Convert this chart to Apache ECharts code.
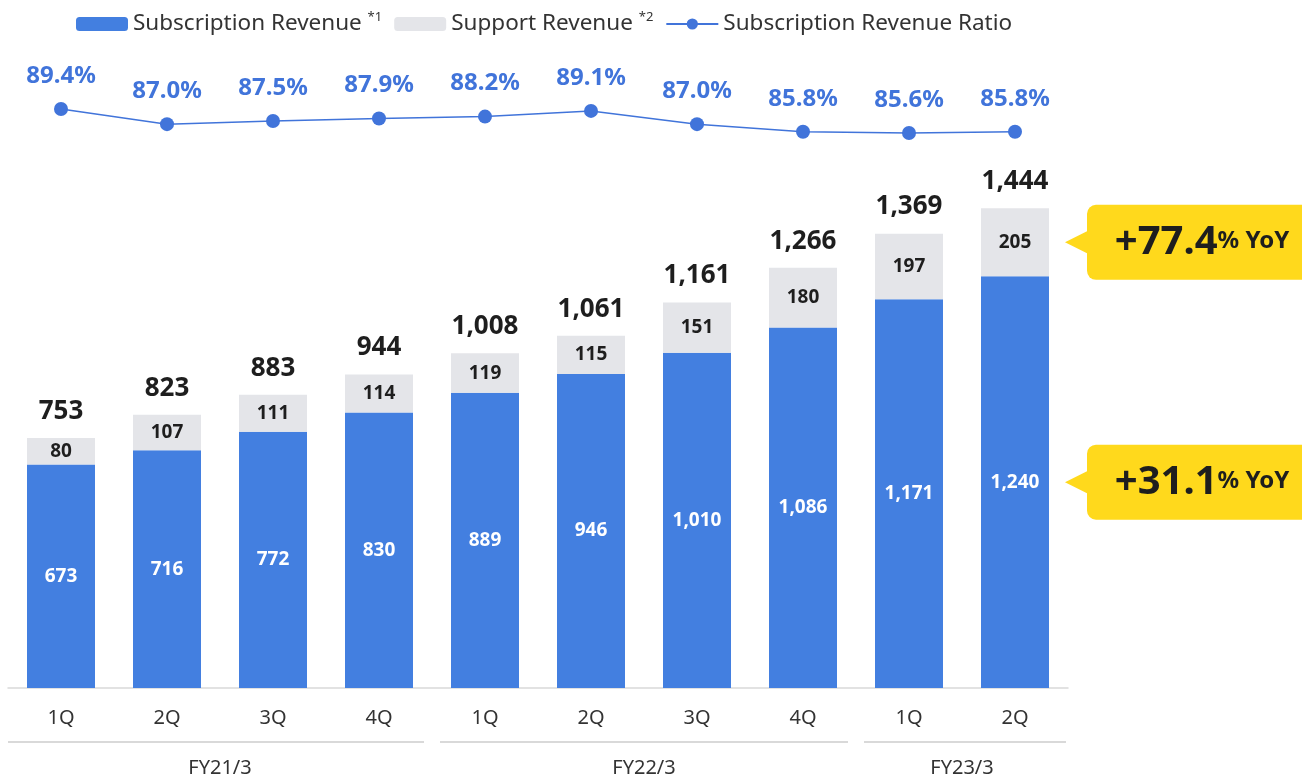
<!DOCTYPE html>
<html><head><meta charset="utf-8">
<script src="https://cdn.jsdelivr.net/npm/echarts@6/dist/echarts.min.js"></script>
<style>html,body{margin:0;padding:0;background:#fff}#c{width:1302px;height:781px}</style>
</head><body><div id="c"></div>
<script>
const quarters = ['1Q','2Q','3Q','4Q','1Q','2Q','3Q','4Q','1Q','2Q'];
const subscription = [673,716,772,830,889,946,1010,1086,1171,1240];
const support = [80,107,111,114,119,115,151,180,197,205];
const totals = [753,823,883,944,1008,1061,1161,1266,1369,1444];
const ratio = [89.4,87.0,87.5,87.9,88.2,89.1,87.0,85.8,85.6,85.8];
const groupNames = ['FY21/3','FY22/3','FY23/3'];
const groupFirst = [0,4,8];
const groupLast = [3,7,9];
const yoyTotal = '+77.4';
const yoySub = '+31.1';

const FONT = '"Noto Sans", "Open Sans", sans-serif';
const BLUE = '#437FE0';
const GRAY = '#E4E5E9';
const LINEBLUE = '#4174DA';
const DARK = '#1E1E1E';

const chart = echarts.init(document.getElementById('c'));
const fmtNum = v => v.toLocaleString('en-US');

const option = {
  animation: false,
  textStyle: { fontFamily: FONT },
  legend: {
    left: 71, top: 6,
    itemWidth: 52, itemHeight: 14, itemGap: 12,
    data: ['Subscription Revenue', 'Support Revenue', 'Subscription Revenue Ratio'],
    formatter: function (name) {
      if (name === 'Subscription Revenue') return '{n|Subscription Revenue} {s|*1}';
      if (name === 'Support Revenue') return '{n|Support Revenue} {s|*2}';
      return '{n|' + name + '}';
    },
    textStyle: {
      color: '#333', fontSize: 22.5, fontFamily: FONT,
      rich: {
        n: { fontSize: 22.5, color: '#333', fontFamily: FONT },
        s: { fontSize: 13, color: '#333', fontFamily: FONT, padding: [0, 0, 13, 0] }
      }
    }
  },
  grid: [
    { left: 8, right: 234, top: 190, bottom: 93 },
    { left: 8, right: 234, top: 42, height: 126.4 }
  ],
  xAxis: [
    {
      type: 'category', gridIndex: 0, data: quarters,
      axisLine: { lineStyle: { color: '#D9D9D9', width: 1.5 } },
      axisTick: { show: false },
      axisLabel: { fontSize: 20, color: '#333', margin: 20, fontFamily: FONT }
    },
    { type: 'category', gridIndex: 1, data: quarters, show: false }
  ],
  yAxis: [
    { type: 'value', gridIndex: 0, min: 0, max: 1500, show: false },
    { type: 'value', gridIndex: 1, min: 80, max: 100, show: false }
  ],
  series: [
    {
      name: 'Subscription Revenue', type: 'bar', stack: 'rev', barWidth: 68,
      data: subscription, itemStyle: { color: BLUE },
      label: { show: true, position: 'inside', color: '#fff', fontSize: 19, fontWeight: 'bold', fontFamily: FONT,
        formatter: p => fmtNum(p.value) }
    },
    {
      name: 'Support Revenue', type: 'bar', stack: 'rev', barWidth: 68,
      data: support, itemStyle: { color: GRAY },
      label: { show: true, position: 'inside', color: DARK, fontSize: 19, fontWeight: 'bold', fontFamily: FONT }
    },
    {
      name: 'Total', type: 'scatter', data: totals, symbolSize: 1,
      itemStyle: { color: 'rgba(255,255,255,0)', opacity: 1 },
      label: { show: true, position: 'top', distance: 13, color: DARK, opacity: 1, fontSize: 26, fontWeight: 'bold', fontFamily: FONT,
        formatter: p => fmtNum(p.value) },
      emphasis: { disabled: true }
    },
    {
      name: 'Subscription Revenue Ratio', type: 'line', xAxisIndex: 1, yAxisIndex: 1,
      data: ratio, symbol: 'circle', symbolSize: 14,
      lineStyle: { color: LINEBLUE, width: 1.5 }, itemStyle: { color: LINEBLUE },
      label: { show: true, position: 'top', distance: 14, color: LINEBLUE, fontSize: 24, fontWeight: 'bold', fontFamily: FONT,
        formatter: p => p.value.toFixed(1) + '%' }
    }
  ]
};
chart.setOption(option);

// annotations derived from axes
const px = i => chart.convertToPixel({ xAxisIndex: 0 }, i);
const py = v => chart.convertToPixel({ yAxisIndex: 0 }, v);
const step = px(1) - px(0);
const base = py(0);
const g = [];
groupNames.forEach((n, i) => {
  const x0 = px(groupFirst[i]) - step / 2;
  const x1 = px(groupLast[i]) + step / 2;
  const a = i === 0 ? x0 : x0 + 8;
  const b = i === groupNames.length - 1 ? x1 - 2 : x1 - 8;
  g.push({ type: 'line', shape: { x1: a, y1: base + 54, x2: b, y2: base + 54 }, style: { stroke: '#D9D9D9', lineWidth: 2 } });
  g.push({ type: 'text', x: (x0 + x1) / 2, y: base + 80,
    style: { text: n, fill: '#333', fontSize: 20, fontFamily: FONT, textAlign: 'center', textVerticalAlign: 'middle' } });
});
const last = quarters.length - 1;
const barRight = px(last) + 34;
function callout(cy, val) {
  const tip = barRight + 16;
  const bl = tip + 22;
  g.push({ type: 'rect', shape: { x: bl, y: cy - 37.5, width: 260, height: 75, r: 9 }, style: { fill: '#FFD91C' } });
  g.push({ type: 'polygon', shape: { points: [[tip, cy], [bl + 2, cy - 12], [bl + 2, cy + 12]] }, style: { fill: '#FFD91C' } });
  g.push({ type: 'text', x: 1202, y: cy,
    style: { text: '{a|' + val + '}{b|% YoY}', textAlign: 'center', textVerticalAlign: 'middle',
      rich: {
        a: { fontSize: 40, fontWeight: 'bold', fill: DARK, color: DARK, fontFamily: FONT },
        b: { fontSize: 24, fontWeight: 'bold', fill: DARK, color: DARK, fontFamily: FONT, padding: [0, 0, 3, 0] }
      } } });
}
callout(py(subscription[last] + support[last] / 2), yoyTotal);
callout(py(subscription[last] / 2), yoySub);
chart.setOption({ graphic: g });
</script></body></html>
